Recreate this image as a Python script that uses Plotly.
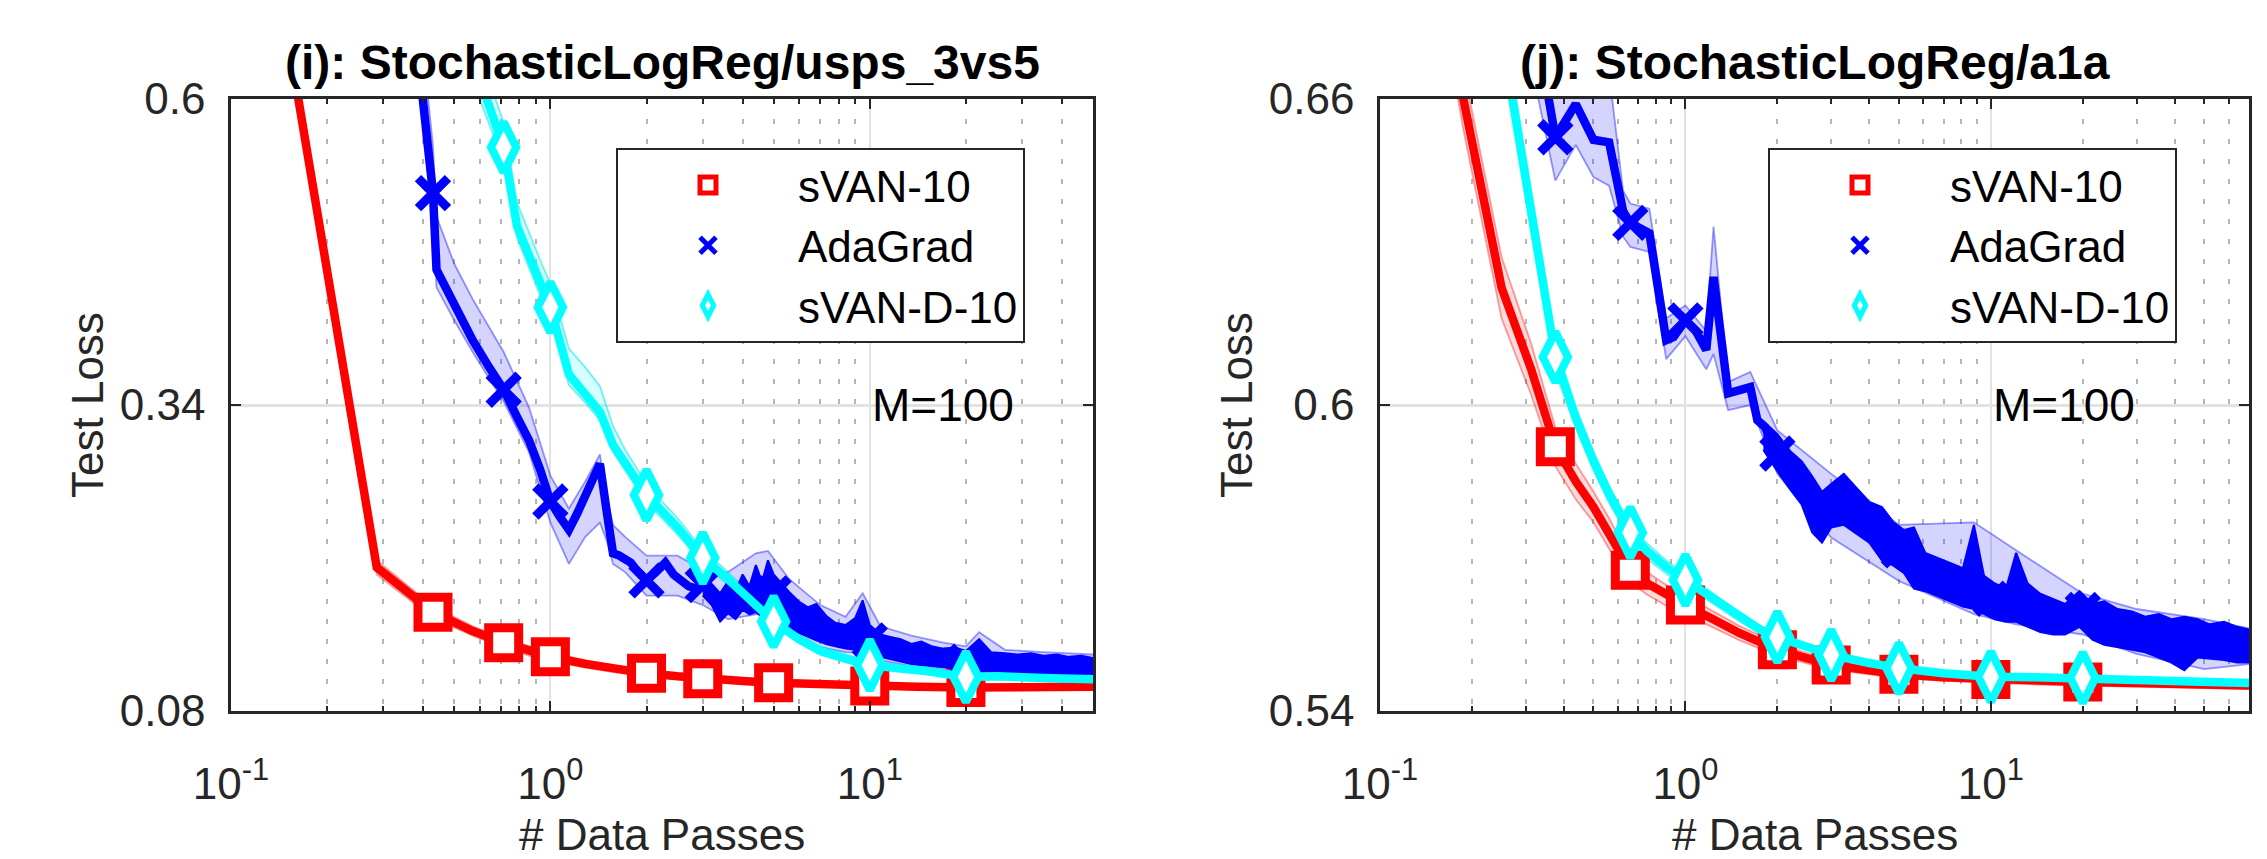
import math
import plotly.graph_objects as go

W, H = 2267, 859
FONT = "Liberation Sans, Arial, Helvetica, sans-serif"

# ---------------- Panel (i): StochasticLogReg/usps_3vs5 ----------------
i_red_x = [0.143, 0.286, 0.429, 0.571, 0.714, 0.857, 1.0, 1.286, 1.571, 2.0, 2.5, 3.0, 4.0, 5.0, 7.0, 10.0, 14.0, 20.0, 30.0, 50.0]
i_red_y = [0.690, 0.202, 0.164, 0.148, 0.138, 0.131, 0.126, 0.120, 0.116, 0.112, 0.1095, 0.1075, 0.1055, 0.104, 0.1025, 0.1012, 0.1005, 0.1000, 0.1002, 0.1005]
i_red_lo = [0.684, 0.196, 0.159, 0.144, 0.134, 0.127, 0.1225, 0.1168, 0.1130, 0.1094, 0.1072, 0.1054, 0.1036, 0.1022, 0.1008, 0.0996, 0.0990, 0.0986, 0.0988, 0.0991]
i_red_hi = [0.696, 0.208, 0.169, 0.152, 0.142, 0.135, 0.1295, 0.1232, 0.1190, 0.1146, 0.1118, 0.1096, 0.1074, 0.1058, 0.1042, 0.1028, 0.1020, 0.1014, 0.1016, 0.1019]

i_blue_x = [0.286, 0.429, 0.44, 0.5, 0.571, 0.643, 0.714, 0.786, 0.857, 0.929, 1.0, 1.071, 1.143, 1.214, 1.286, 1.357, 1.429, 1.5,
            1.571, 1.643, 1.714, 1.786, 1.857, 1.929, 2.0, 2.14, 2.29, 2.43, 2.57, 2.71, 2.86, 3.0, 3.2, 3.4, 3.6, 3.8, 4.0, 4.2,
            4.4, 4.6, 4.8, 5.0, 5.3, 5.6, 6.0, 6.4, 6.8, 7.3, 7.8, 8.4, 9.0, 9.5, 10.0, 10.8, 11.6, 12.5, 13.5, 14.5, 15.6, 17.0,
            18.5, 20.0, 22.0, 24.0, 26.5, 29.0, 32.0, 35.0, 38.5, 42.0, 46.0, 50.0]
i_blue_y = [0.96, 0.52, 0.455, 0.425, 0.395, 0.372, 0.353, 0.330, 0.310, 0.285, 0.258, 0.245, 0.234, 0.248, 0.262, 0.276, 0.290, 0.250,
            0.214, 0.212, 0.209, 0.206, 0.200, 0.195, 0.191, 0.198, 0.206, 0.196, 0.190, 0.186, 0.184, 0.187, 0.180, 0.166, 0.176, 0.170, 0.182, 0.174,
            0.186, 0.176, 0.190, 0.180, 0.172, 0.165, 0.159, 0.155, 0.154, 0.148, 0.145, 0.143, 0.145, 0.152, 0.140, 0.136, 0.133, 0.131, 0.128, 0.128, 0.126, 0.124,
            0.124, 0.122, 0.126, 0.121, 0.120, 0.119, 0.119, 0.118, 0.118, 0.117, 0.117, 0.116]
i_blue_band_x = [0.40, 0.429, 0.44, 0.5, 0.571, 0.714, 0.857, 1.0, 1.143, 1.286, 1.429, 1.5, 1.571, 1.714, 2.0, 2.5, 3.0, 3.6, 4.4, 4.8,
                 5.6, 7.0, 8.4, 9.5, 10.8, 13.5, 17.0, 20.0, 22.0, 26.5, 35.0, 50.0]
i_blue_band_lo = [0.57, 0.50, 0.44, 0.412, 0.385, 0.343, 0.300, 0.240, 0.205, 0.228, 0.240, 0.225, 0.205, 0.198, 0.178, 0.178, 0.170, 0.158, 0.162, 0.165,
                  0.148, 0.134, 0.130, 0.129, 0.123, 0.118, 0.115, 0.113, 0.112, 0.111, 0.109, 0.107]
i_blue_band_hi = [0.64, 0.56, 0.50, 0.46, 0.43, 0.385, 0.338, 0.280, 0.252, 0.275, 0.298, 0.262, 0.238, 0.228, 0.212, 0.212, 0.200, 0.198, 0.214, 0.216,
                  0.192, 0.170, 0.160, 0.180, 0.152, 0.144, 0.138, 0.135, 0.147, 0.132, 0.130, 0.128]
# dense run-to-run noise of AdaGrad (envelope of the jagged curve)
i_blue_nz_x = [3.0, 3.2, 3.4, 3.6, 3.8, 4.0, 4.2, 4.4, 4.6, 4.8, 5.0, 5.3, 5.6, 6.0, 6.4, 6.8, 7.3, 7.8, 8.4, 9.0, 9.5, 10.0, 10.8, 11.6,
               12.5, 13.5, 14.5, 15.6, 17.0, 18.5, 20.0, 22.0, 24.0, 26.5, 29.0, 32.0, 35.0, 38.5, 42.0, 46.0, 50.0]
i_blue_nz_hi = [0.194, 0.188, 0.180, 0.190, 0.182, 0.196, 0.186, 0.204, 0.190, 0.208, 0.196, 0.188, 0.181, 0.173, 0.168, 0.171, 0.161, 0.155, 0.153, 0.159, 0.174, 0.153, 0.145, 0.143,
                0.141, 0.137, 0.139, 0.135, 0.133, 0.134, 0.131, 0.141, 0.130, 0.129, 0.128, 0.129, 0.127, 0.128, 0.126, 0.127, 0.125]
i_blue_nz_lo = [0.178, 0.170, 0.156, 0.163, 0.158, 0.166, 0.162, 0.164, 0.160, 0.166, 0.162, 0.158, 0.150, 0.146, 0.143, 0.140, 0.137, 0.135, 0.133, 0.132, 0.131, 0.129, 0.126, 0.124,
                0.122, 0.120, 0.119, 0.118, 0.117, 0.116, 0.115, 0.114, 0.113, 0.113, 0.112, 0.111, 0.111, 0.110, 0.109, 0.109, 0.108]

i_cyan_x = [0.286, 0.429, 0.571, 0.714, 0.786, 0.857, 0.929, 1.0, 1.143, 1.286, 1.429, 1.571, 1.714, 1.857, 2.0, 2.5, 3.0, 3.5, 4.0, 4.5,
            5.0, 6.0, 7.0, 8.5, 10.0, 12.5, 15.0, 20.0, 25.0, 35.0, 50.0]
i_cyan_y = [1.10, 0.80, 0.634, 0.559, 0.492, 0.466, 0.443, 0.423, 0.366, 0.350, 0.334, 0.306, 0.290, 0.276, 0.2635, 0.236, 0.210, 0.195, 0.180, 0.166,
            0.156, 0.141, 0.131, 0.124, 0.119, 0.116, 0.114, 0.109, 0.1095, 0.108, 0.107]
i_cyan_lo = [1.08, 0.78, 0.615, 0.547, 0.482, 0.456, 0.433, 0.413, 0.357, 0.342, 0.327, 0.300, 0.284, 0.270, 0.257, 0.230, 0.205, 0.190, 0.176, 0.162,
             0.152, 0.138, 0.128, 0.121, 0.116, 0.1135, 0.1115, 0.1065, 0.107, 0.1055, 0.1045]
i_cyan_hi = [1.12, 0.82, 0.655, 0.580, 0.512, 0.486, 0.463, 0.443, 0.388, 0.372, 0.356, 0.322, 0.302, 0.287, 0.272, 0.244, 0.217, 0.201, 0.186, 0.171,
             0.161, 0.145, 0.135, 0.128, 0.1225, 0.119, 0.117, 0.1115, 0.112, 0.1105, 0.1095]

i_marks_red = [0.429, 0.714, 1.0, 2.0, 3.0, 5.0, 10.0, 20.0]
i_marks_blue = [0.429, 0.714, 1.0, 2.0, 3.0, 5.0, 10.0, 20.0]
i_marks_cyan = [0.714, 1.0, 2.0, 3.0, 5.0, 10.0, 20.0]

# ---------------- Panel (j): StochasticLogReg/a1a ----------------
j_red_x = [0.125, 0.1875, 0.25, 0.3125, 0.375, 0.4375, 0.5, 0.5625, 0.66, 0.75, 0.875, 1.0, 1.25, 1.5, 2.0, 2.5, 3.0, 4.0, 5.0, 7.0,
           10.0, 14.0, 20.0, 30.0, 45.0, 70.0]
j_red_y = [0.72, 0.660, 0.623, 0.607, 0.5918, 0.585, 0.580, 0.5748, 0.5676, 0.5650, 0.5625, 0.5608, 0.5578, 0.5553, 0.5520, 0.5503, 0.5490, 0.5480, 0.5472, 0.5466,
           0.5462, 0.5459, 0.5457, 0.5455, 0.5452, 0.5450]
j_red_lo = [0.714, 0.6540, 0.617, 0.602, 0.5880, 0.5815, 0.5770, 0.5718, 0.5652, 0.5628, 0.5605, 0.5590, 0.5562, 0.5539, 0.5508, 0.5493, 0.5481, 0.5472, 0.5465, 0.5459,
            0.5455, 0.5452, 0.5450, 0.5448, 0.5445, 0.5443]
j_red_hi = [0.726, 0.6660, 0.629, 0.612, 0.5956, 0.5885, 0.5830, 0.5778, 0.5700, 0.5672, 0.5645, 0.5626, 0.5594, 0.5567, 0.5532, 0.5513, 0.5499, 0.5488, 0.5479, 0.5473,
            0.5469, 0.5466, 0.5464, 0.5462, 0.5459, 0.5457]

j_blue_x = [0.3125, 0.375, 0.4375, 0.5, 0.5625, 0.625, 0.66, 0.762, 0.865, 0.914, 1.0, 1.077, 1.17, 1.236, 1.38, 1.5, 1.63, 1.72, 1.82, 2.0,
            2.2, 2.4, 2.6, 2.8, 3.0, 3.3, 3.6, 4.0, 4.4, 4.8, 5.0, 5.6, 6.1, 6.7, 7.4, 8.1, 8.8, 9.5, 10.0, 11.2,
            12.1, 13.2, 14.5, 16.0, 17.5, 20.0, 21.5, 23.5, 26.0, 29.0, 32.0, 35.5, 39.0, 43.0, 47.5, 52.0, 58.0, 64.0, 70.0]
j_blue_y = [0.680, 0.6525, 0.659, 0.652, 0.6515, 0.638, 0.6357, 0.6337, 0.6127, 0.6133, 0.6166, 0.6147, 0.6108, 0.6251, 0.6023, 0.6030, 0.6035, 0.5970, 0.5957, 0.5905,
            0.5875, 0.5850, 0.5805, 0.5780, 0.5800, 0.5815, 0.5795, 0.5770, 0.5745, 0.5725, 0.5715, 0.5700, 0.5672, 0.5662, 0.5652, 0.5643, 0.5700, 0.5628, 0.5620, 0.5608,
            0.5645, 0.5608, 0.5592, 0.5585, 0.5580, 0.5598, 0.5575, 0.5572, 0.5562, 0.5558, 0.5550, 0.5548, 0.5538, 0.5532, 0.5540, 0.5536, 0.5537, 0.5530, 0.5528]
j_blue_band_x = [0.33, 0.375, 0.4375, 0.5, 0.5625, 0.625, 0.66, 0.762, 0.865, 1.0, 1.17, 1.236, 1.38, 1.63, 2.0, 3.0, 5.0, 8.8, 12.1, 20.0,
                 30.0, 50.0, 70.0]
j_blue_band_lo = [0.660, 0.644, 0.651, 0.6447, 0.643, 0.633, 0.631, 0.630, 0.609, 0.6135, 0.607, 0.610, 0.599, 0.600, 0.5865, 0.5740, 0.5655, 0.5590, 0.5570, 0.5550,
                  0.5512, 0.5482, 0.5492]
j_blue_band_hi = [0.700, 0.670, 0.672, 0.668, 0.665, 0.642, 0.6395, 0.6385, 0.617, 0.6195, 0.6145, 0.635, 0.6045, 0.6065, 0.5950, 0.5865, 0.5765, 0.5770, 0.5715, 0.5630,
                  0.5600, 0.5580, 0.5562]
j_blue_nz_x = [1.8, 2.0, 2.2, 2.4, 2.6, 2.8, 3.0, 3.3, 3.6, 4.0, 4.4, 4.8, 5.2, 5.6, 6.1, 6.7, 7.4, 8.1, 8.8, 9.5,
               10.3, 11.2, 12.1, 13.2, 14.5, 16.0, 17.5, 19.5, 21.5, 23.5, 26.0, 29.0, 32.0, 35.5, 39.0, 43.0, 47.5, 52.0, 58.0, 64.0, 70.0]
j_blue_nz_hi = [0.5968, 0.5943, 0.5910, 0.5890, 0.5860, 0.5830, 0.5845, 0.5865, 0.5840, 0.5810, 0.5800, 0.5770, 0.5755, 0.5760, 0.5710, 0.5700, 0.5690, 0.5680, 0.5765, 0.5665,
                0.5650, 0.5640, 0.5710, 0.5650, 0.5630, 0.5620, 0.5610, 0.5635, 0.5610, 0.5615, 0.5600, 0.5595, 0.5585, 0.5590, 0.5580, 0.5585, 0.5580, 0.5570, 0.5575, 0.5565, 0.5560]
j_blue_nz_lo = [0.5912, 0.5870, 0.5835, 0.5805, 0.5750, 0.5730, 0.5760, 0.5765, 0.5750, 0.5730, 0.5695, 0.5685, 0.5670, 0.5640, 0.5635, 0.5625, 0.5615, 0.5605, 0.5600, 0.5590,
                0.5580, 0.5575, 0.5575, 0.5565, 0.5555, 0.5550, 0.5550, 0.5565, 0.5540, 0.5530, 0.5525, 0.5520, 0.5515, 0.5505, 0.5495, 0.5480, 0.5505, 0.5502, 0.5500, 0.5495, 0.5495]

j_cyan_x = [0.125, 0.25, 0.3125, 0.375, 0.4375, 0.5, 0.5625, 0.66, 0.75, 0.875, 1.0, 1.25, 1.5, 1.75, 2.0, 2.5, 3.0, 4.0, 5.0, 7.0,
            10.0, 14.0, 20.0, 30.0, 45.0, 70.0]
j_cyan_y = [0.78, 0.674, 0.638, 0.6094, 0.5975, 0.589, 0.5825, 0.575, 0.5713, 0.568, 0.5657, 0.5618, 0.5585, 0.556, 0.5545, 0.5525, 0.551, 0.5494, 0.5484, 0.5474,
            0.5467, 0.5466, 0.5465, 0.5461, 0.5458, 0.5455]
j_cyan_lo = [0.775, 0.670, 0.634, 0.6065, 0.5955, 0.5872, 0.5808, 0.5735, 0.5698, 0.5667, 0.5645, 0.5608, 0.5576, 0.5552, 0.5538, 0.5519, 0.5505, 0.5490, 0.5480, 0.5471,
             0.5464, 0.5463, 0.5462, 0.5458, 0.5455, 0.5452]
j_cyan_hi = [0.785, 0.678, 0.642, 0.6123, 0.5995, 0.5908, 0.5842, 0.5765, 0.5728, 0.5693, 0.5669, 0.5628, 0.5594, 0.5568, 0.5552, 0.5531, 0.5515, 0.5498, 0.5488, 0.5477,
             0.5470, 0.5469, 0.5468, 0.5464, 0.5461, 0.5458]

j_marks = [0.375, 0.66, 1.0, 2.0, 3.0, 5.0, 10.0, 20.0]

series_names = ["sVAN-10", "AdaGrad", "sVAN-D-10"]
titles = ["<b>(i): StochasticLogReg/usps_3vs5</b>", "<b>(j): StochasticLogReg/a1a</b>"]
y_ticks = [[0.08, 0.34, 0.6], [0.54, 0.6, 0.66]]
y_ticktext = [["0.08", "0.34", "0.6"], ["0.54", "0.6", "0.66"]]
x_max = [50.0, 70.0]
x_major = [0.1, 1.0, 10.0]
x_major_text = ["10<sup>-1</sup>", "10<sup>0</sup>", "10<sup>1</sup>"]
x_minor = [0.2, 0.3, 0.4, 0.5, 0.6, 0.7, 0.8, 0.9, 2, 3, 4, 5, 6, 7, 8, 9, 20, 30, 40, 50, 60, 70, 80, 90]
x_title = "# Data Passes"
y_title = "Test Loss"
annot_text = "M=100"
annot_pos = [(10.0, 0.34), (10.0, 0.6)]

RED, BLUE, CYAN = "#ff0000", "#0000ff", "#00ffff"
LW = 8.5


def pick(xs, ys, marks):
    return [ys[xs.index(m)] for m in marks]


fig = go.Figure()


def band(x, lo, hi, edge, fill, xa, ya):
    fig.add_trace(go.Scatter(x=x, y=lo, mode="lines", line=dict(color=edge, width=1.8),
                             hoverinfo="skip", showlegend=False, xaxis=xa, yaxis=ya))
    fig.add_trace(go.Scatter(x=x, y=hi, mode="lines", line=dict(color=edge, width=1.8),
                             fill="tonexty", fillcolor=fill, hoverinfo="skip", showlegend=False,
                             xaxis=xa, yaxis=ya))


def line(x, y, color, xa, ya):
    fig.add_trace(go.Scatter(x=x, y=y, mode="lines", line=dict(color=color, width=LW),
                             showlegend=False, xaxis=xa, yaxis=ya))


def marks(x, y, name, sym, color, size, lw, xa, ya, leg):
    fill = "white" if sym != "x-thin" else color
    fig.add_trace(go.Scatter(x=x, y=y, mode="markers", name=name,
                             marker=dict(symbol=sym, size=size, color=fill,
                                         line=dict(color=color, width=lw)),
                             xaxis=xa, yaxis=ya, legend=leg))


def noise(x, lo, hi, xa, ya):
    fig.add_trace(go.Scatter(x=x + x[::-1], y=hi + lo[::-1], mode="lines", fill="toself",
                             fillcolor=BLUE, line=dict(color=BLUE, width=2),
                             hoverinfo="skip", showlegend=False, xaxis=xa, yaxis=ya))


panels = [
    dict(xa="x", ya="y", leg="legend",
         red=(i_red_x, i_red_y, i_red_lo, i_red_hi, i_marks_red),
         blue=(i_blue_x, i_blue_y, i_blue_band_x, i_blue_band_lo, i_blue_band_hi,
               i_blue_nz_x, i_blue_nz_lo, i_blue_nz_hi, i_marks_blue),
         cyan=(i_cyan_x, i_cyan_y, i_cyan_lo, i_cyan_hi, i_marks_cyan)),
    dict(xa="x2", ya="y2", leg="legend2",
         red=(j_red_x, j_red_y, j_red_lo, j_red_hi, j_marks),
         blue=(j_blue_x, j_blue_y, j_blue_band_x, j_blue_band_lo, j_blue_band_hi,
               j_blue_nz_x, j_blue_nz_lo, j_blue_nz_hi, j_marks),
         cyan=(j_cyan_x, j_cyan_y, j_cyan_lo, j_cyan_hi, j_marks)),
]

for p in panels:
    xa, ya, leg = p["xa"], p["ya"], p["leg"]
    rx, ry, rlo, rhi, rm = p["red"]
    bx, by, bbx, bblo, bbhi, nzx, nzlo, nzhi, bm = p["blue"]
    cx, cy, clo, chi, cm = p["cyan"]
    band(rx, rlo, rhi, "rgba(255,0,0,0.38)", "rgba(255,0,0,0.14)", xa, ya)
    band(bbx, bblo, bbhi, "rgba(0,0,255,0.40)", "rgba(0,0,255,0.17)", xa, ya)
    band(cx, clo, chi, "rgba(0,230,230,0.55)", "rgba(0,255,255,0.16)", xa, ya)
    line(rx, ry, RED, xa, ya)
    marks(rm, pick(rx, ry, rm), series_names[0], "square", RED, 30, 9, xa, ya, leg)
    noise(nzx, nzlo, nzhi, xa, ya)
    line(bx, by, BLUE, xa, ya)
    marks(bm, pick(bx, by, bm), series_names[1], "x-thin", BLUE, 30, 9, xa, ya, leg)
    line(cx, cy, CYAN, xa, ya)
    marks(cm, pick(cx, cy, cm), series_names[2], "diamond-tall", CYAN, 36, 8, xa, ya, leg)

TXT = "#262626"
dom_x = [[231 / W, 1093 / W], [1380 / W, 2249 / W]]
dom_y = [1 - 711 / H, 1 - 99 / H]

layout = dict(
    width=W, height=H, margin=dict(l=0, r=0, t=0, b=0, autoexpand=False),
    paper_bgcolor="white", plot_bgcolor="white",
    font=dict(family=FONT, size=44, color=TXT),
)
for k in range(2):
    sx = "" if k == 0 else "2"
    layout["xaxis" + sx] = dict(
        type="log", domain=dom_x[k], range=[-1, math.log10(x_max[k])],
        anchor="y" + sx, tickmode="array", tickvals=x_major, ticktext=x_major_text,
        ticks="inside", ticklen=10, tickwidth=2, tickcolor=TXT, mirror="allticks",
        showline=True, linecolor=TXT, linewidth=2.5, automargin=False,
        showgrid=True, gridcolor="#e2e2e2", gridwidth=2,
        minor=dict(tickmode="array", tickvals=x_minor, ticks="inside", ticklen=5, tickwidth=1.5,
                   tickcolor=TXT, showgrid=True, gridcolor="#b5b5b5", gridwidth=1.5,
                   griddash="5px,15px"),
        tickfont=dict(size=44, color=TXT), ticklabelstandoff=32,
        zeroline=False,
    )
    layout["yaxis" + sx] = dict(
        domain=dom_y, range=[y_ticks[k][0], y_ticks[k][-1]], anchor="x" + sx,
        tickmode="array", tickvals=y_ticks[k], ticktext=y_ticktext[k],
        ticks="inside", ticklen=10, tickwidth=2, tickcolor=TXT, mirror="allticks",
        showline=True, linecolor=TXT, linewidth=2.5, automargin=False,
        showgrid=True, gridcolor="#e2e2e2", gridwidth=2.5, zeroline=False,
        tickfont=dict(size=44, color=TXT), ticklabelstandoff=14,
    )

legend_common = dict(xanchor="left", yanchor="top", bgcolor="white", bordercolor=TXT, borderwidth=2,
                     font=dict(size=44, color="black", family=FONT), itemwidth=170, tracegroupgap=0,
                     itemsizing="trace", traceorder="normal")
layout["legend"] = dict(x=616 / W, y=1 - 148 / H, **legend_common)
layout["legend2"] = dict(x=1768 / W, y=1 - 148 / H, **legend_common)

annotations = []
for k in range(2):
    cxp = (dom_x[k][0] + dom_x[k][1]) / 2
    annotations.append(dict(text=titles[k], xref="paper", yref="paper", x=cxp, y=1 - 62 / H,
                            xanchor="center", yanchor="middle", showarrow=False,
                            font=dict(size=48, color="black", family=FONT)))
    annotations.append(dict(text=x_title, xref="paper", yref="paper", x=cxp, y=1 - 834 / H,
                            xanchor="center", yanchor="middle", showarrow=False,
                            font=dict(size=44, color=TXT, family=FONT)))
    annotations.append(dict(text=y_title, xref="paper", yref="paper",
                            x=(dom_x[k][0] * W - 144) / W, y=(dom_y[0] + dom_y[1]) / 2,
                            xanchor="center", yanchor="middle", textangle=-90, showarrow=False,
                            font=dict(size=44, color=TXT, family=FONT)))
    sx = "" if k == 0 else "2"
    ax_, ay_ = annot_pos[k]
    annotations.append(dict(text=annot_text, xref="x" + sx, yref="y" + sx,
                            x=math.log10(ax_), y=ay_, xanchor="left", yanchor="middle",
                            showarrow=False, font=dict(size=46, color="black", family=FONT)))
layout["annotations"] = annotations

fig.update_layout(**layout)
fig.write_html("out.html")
